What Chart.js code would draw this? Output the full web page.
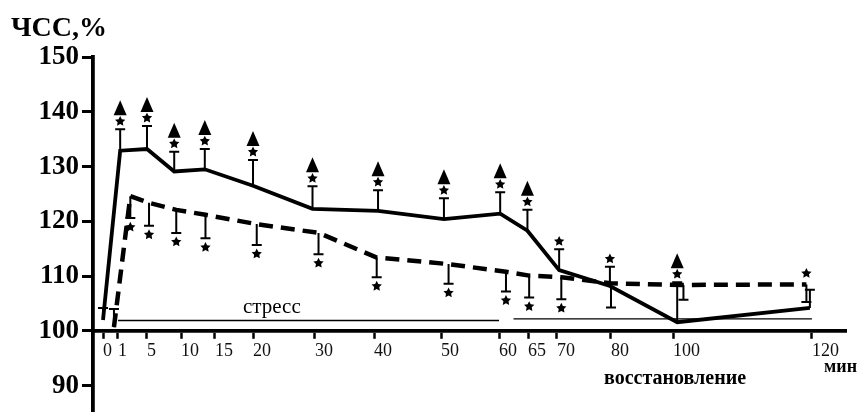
<!DOCTYPE html>
<html>
<head>
<meta charset="utf-8">
<script src="https://cdn.jsdelivr.net/npm/chart.js@4.4.0/dist/chart.umd.min.js"></script>
<style>
  html, body { margin: 0; padding: 0; background: #fff; }
  canvas { display: block; }
</style>
</head>
<body>
<canvas id="c" width="861" height="412"></canvas>
<script>
// ---------- DATA ----------
const xTickLabels = [0, 1, 5, 10, 15, 20, 30, 40, 50, 60, 65, 70, 80, 100, 120];
const yTickLabels = [90, 100, 110, 120, 130, 140, 150];

// solid line (minutes, % HR, SEM upward)
const solidX   = [0, 1.3, 5, 9, 13.5, 20, 29.6, 40.6, 50.5, 60.2, 64.9, 70.4, 79.8, 100.6, 119.7];
const solidY   = [102.0, 132.9, 133.2, 129.1, 129.5, 126.5, 122.3, 121.9, 120.4, 121.4, 118.3, 111.1, 108.2, 101.6, 104.2];
const solidErr = [2.2, 3.9, 4.2, 3.6, 3.7, 4.7, 4.1, 3.8, 3.8, 3.9, 3.8, 3.8, 3.5, 7.3, 3.3];
const solidStar = [0, 1, 1, 1, 1, 1, 1, 1, 1, 1, 1, 1, 1, 1, 0];
const solidTriangle = [0, 1, 1, 1, 1, 1, 1, 1, 1, 1, 1, 0, 0, 1, 0];

// dashed line (minutes, % HR, SEM signed: + up, - down)
const dashedX   = [0.73, 2.7, 5.3, 9.3, 13.6, 20.6, 30.6, 40.4, 51.3, 61.2, 65.2, 70.8, 80, 101.5, 119.2];
const dashedY   = [100.7, 124.6, 123.4, 122.1, 121.2, 119.5, 117.9, 113.4, 112.2, 110.8, 110.1, 109.8, 108.7, 108.4, 108.5];
const dashedErr = [3.3, -4.0, -4.2, -4.2, -4.3, -3.8, -3.9, -3.6, -3.6, -3.6, -4.0, -4.0, -4.4, -2.7, -3.2];
// star position: -1 below error cap, 1 above the point, 0 none
const dashedStar = [0, -1, -1, -1, -1, -1, -1, -1, -1, -1, -1, -1, 0, 0, 1];

// period bars
const stressSpan = [1, 60];
const stressLevel = 101.9;
const recoverySpan = [62.5, 120];
const recoveryLevel = 102.2;

const titleText = 'ЧСС,%';
const stressText = 'стресс';
const recoveryText = 'восстановление';
const unitText = 'мин';

// ---------- piecewise x scale (non-uniform time axis of the original) ----------
class PiecewiseScale extends Chart.LinearScale {
  static id = 'piecewise';
  static defaults = {};
  buildTicks() {
    super.buildTicks();
    return this.options.tickValues.map(v => ({ value: v }));
  }
  getPixelForValue(value) {
    const k = this.options.knots;
    let i = 0;
    while (i < k.length - 2 && value > k[i + 1][0]) i++;
    const [v0, f0] = k[i], [v1, f1] = k[i + 1];
    return this.getPixelForDecimal(f0 + (value - v0) * (f1 - f0) / (v1 - v0));
  }
  getValueForPixel(pixel) {
    const f = this.getDecimalForPixel(pixel);
    const k = this.options.knots;
    let i = 0;
    while (i < k.length - 2 && f > k[i + 1][1]) i++;
    const [v0, f0] = k[i], [v1, f1] = k[i + 1];
    return v0 + (f - f0) * (v1 - v0) / (f1 - f0);
  }
}
Chart.register(PiecewiseScale);

const serif = '"Liberation Serif", "DejaVu Serif", serif';

function drawStar(ctx, x, y, r) {
  ctx.beginPath();
  for (let i = 0; i < 10; i++) {
    const rr = i % 2 === 0 ? r : r * 0.5;
    const a = -Math.PI / 2 + i * Math.PI / 5;
    const px = x + rr * Math.cos(a), py = y + rr * Math.sin(a);
    if (i === 0) ctx.moveTo(px, py); else ctx.lineTo(px, py);
  }
  ctx.closePath();
  ctx.fill();
}
function drawTriangle(ctx, x, yBottom) {
  ctx.beginPath();
  ctx.moveTo(x, yBottom - 15);
  ctx.lineTo(x + 6.5, yBottom);
  ctx.lineTo(x - 6.5, yBottom);
  ctx.closePath();
  ctx.fill();
}
function errBar(ctx, x, y0, y1) {
  ctx.beginPath();
  ctx.moveTo(x, y0); ctx.lineTo(x, y1);
  ctx.moveTo(x - 5, y1); ctx.lineTo(x + 5, y1);
  ctx.stroke();
}

const decorPlugin = {
  id: 'decor',
  afterDatasetsDraw(chart) {
    const ctx = chart.ctx, xs = chart.scales.x, ys = chart.scales.y;
    ctx.save();
    ctx.strokeStyle = '#000';
    ctx.fillStyle = '#000';
    ctx.lineWidth = 2;
    solidX.forEach((t, i) => {
      const px = xs.getPixelForValue(t);
      const py = ys.getPixelForValue(solidY[i]);
      const pc = ys.getPixelForValue(solidY[i] + solidErr[i]);
      errBar(ctx, px, py, pc);
      if (solidStar[i]) drawStar(ctx, px, pc - 8, 5.4);
      if (solidTriangle[i]) drawTriangle(ctx, px, pc - 14);
    });
    dashedX.forEach((t, i) => {
      const px = xs.getPixelForValue(t);
      const py = ys.getPixelForValue(dashedY[i]);
      const pc = ys.getPixelForValue(dashedY[i] + dashedErr[i]);
      errBar(ctx, px, py, pc);
      if (dashedStar[i] === -1) drawStar(ctx, px, pc + 9, 5.4);
      if (dashedStar[i] === 1) drawStar(ctx, px, py - 11, 5.4);
    });
    ctx.restore();
  },
  afterDraw(chart) {
    const ctx = chart.ctx;
    ctx.save();
    ctx.fillStyle = '#000';
    ctx.textBaseline = 'alphabetic';
    ctx.textAlign = 'left';
    ctx.font = 'bold 28px ' + serif;
    ctx.fillText(titleText, 11, 36);
    ctx.font = '21px ' + serif;
    ctx.fillText(stressText, 243, 313);
    ctx.font = 'bold 20px ' + serif;
    ctx.fillText(recoveryText, 604, 384);
    ctx.font = 'bold 18px ' + serif;
    ctx.fillText(unitText, 824, 372);
    ctx.restore();
  }
};

new Chart(document.getElementById('c'), {
  type: 'line',
  data: {
    datasets: [
      {
        data: solidX.map((x, i) => ({ x, y: solidY[i] })),
        borderColor: '#000', borderWidth: 3.8, pointRadius: 0, tension: 0, fill: false
      },
      {
        data: dashedX.map((x, i) => ({ x, y: dashedY[i] })),
        borderColor: '#000', borderWidth: 4.5, borderDash: [14, 8], pointRadius: 0, tension: 0, fill: false
      },
      {
        data: stressSpan.map(x => ({ x, y: stressLevel })),
        borderColor: '#000', borderWidth: 1.4, pointRadius: 0, fill: false
      },
      {
        data: recoverySpan.map(x => ({ x, y: recoveryLevel })),
        borderColor: '#000', borderWidth: 1.4, pointRadius: 0, fill: false
      }
    ]
  },
  options: {
    responsive: false,
    animation: false,
    layout: { padding: { top: 57, right: 15, bottom: 0, left: 0 } },
    plugins: { legend: { display: false }, tooltip: { enabled: false }, title: { display: false } },
    scales: {
      x: {
        type: 'piecewise',
        position: { y: 100 },
        min: -0.67,
        max: 125,
        tickValues: xTickLabels,
        knots: [[-0.67, 0], [0, 0.0133], [1, 0.0332], [5, 0.0717], [10, 0.1169], [15, 0.1620],
                [20, 0.2125], [30, 0.2948], [40, 0.3732], [50, 0.4622], [60, 0.5392], [65, 0.5777],
                [70, 0.6162], [80, 0.6879], [100, 0.7703], [120, 0.9548], [125, 1]],
        afterFit(s) { s.paddingLeft = 0; s.paddingRight = 0; },
        grid: { display: true, drawOnChartArea: false, drawTicks: true, tickLength: 6, tickWidth: 2.5, tickColor: '#000' },
        border: { display: true, color: '#000', width: 3.8 },
        ticks: {
          autoSkip: false, maxRotation: 0, minRotation: 0, align: 'start', padding: 4,
          color: '#111', font: { family: serif, size: 18 },
          callback: v => String(v)
        }
      },
      y: {
        type: 'linear',
        min: 85.21,
        max: 150,
        afterBuildTicks(s) { s.ticks = yTickLabels.map(v => ({ value: v })); },
        afterFit(s) { s.width = 93; s.paddingTop = 0; s.paddingBottom = 0; },
        grid: { display: true, drawOnChartArea: false, drawTicks: true, tickLength: 11, tickWidth: 3, tickColor: '#000' },
        border: { display: true, color: '#000', width: 3.8 },
        ticks: {
          padding: 3, color: '#000', font: { family: serif, size: 27, weight: 'bold' },
          callback: v => String(v)
        }
      }
    }
  },
  plugins: [decorPlugin]
});
</script>
</body>
</html>
